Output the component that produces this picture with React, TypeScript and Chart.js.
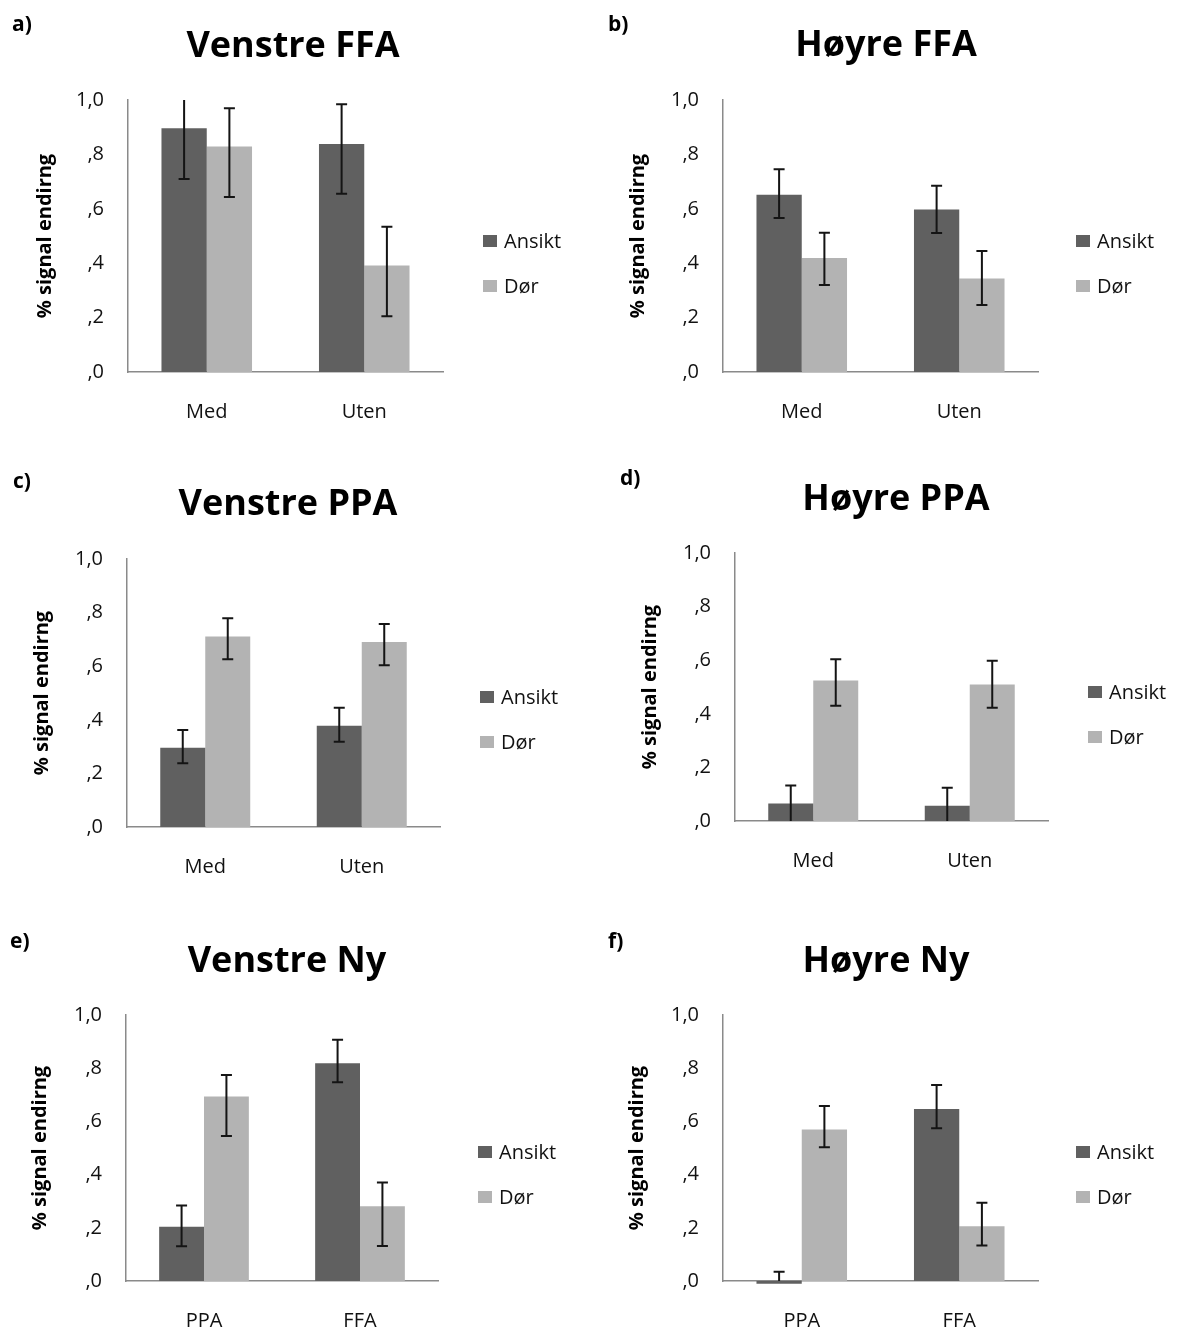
import React, { useEffect, useRef } from "react";
import { Chart, registerables } from "chart.js";

Chart.register(...registerables);

// ---------- data ----------
const CATEGORIES_ROI = ["Med", "Uten"];
const CATEGORIES_NY = ["PPA", "FFA"];
const SERIES = ["Ansikt", "Dør"];
const Y_TICK_VALUES = [0, 0.2, 0.4, 0.6, 0.8, 1.0];
const Y_TICK_LABELS = [",0", ",2", ",4", ",6", ",8", "1,0"];
const Y_TITLE = "% signal endirng";
const PANEL_LETTERS = ["a)", "b)", "c)", "d)", "e)", "f)"];
const PANEL_TITLES = ["Venstre FFA", "Høyre FFA", "Venstre PPA", "Høyre PPA", "Venstre Ny", "Høyre Ny"];

// a) Venstre FFA
const A_ANSIKT = [0.896, 0.838];
const A_ANSIKT_LO = [0.71, 0.655];
const A_ANSIKT_HI = [1.05, 0.984];
const A_DOR = [0.829, 0.392];
const A_DOR_LO = [0.643, 0.205];
const A_DOR_HI = [0.97, 0.534];

// b) Høyre FFA
const B_ANSIKT = [0.652, 0.597];
const B_ANSIKT_LO = [0.566, 0.511];
const B_ANSIKT_HI = [0.745, 0.685];
const B_DOR = [0.419, 0.344];
const B_DOR_LO = [0.32, 0.246];
const B_DOR_HI = [0.512, 0.445];

// c) Venstre PPA
const C_ANSIKT = [0.296, 0.378];
const C_ANSIKT_LO = [0.238, 0.318];
const C_ANSIKT_HI = [0.362, 0.445];
const C_DOR = [0.711, 0.69];
const C_DOR_LO = [0.626, 0.604];
const C_DOR_HI = [0.779, 0.757];

// d) Høyre PPA
const D_ANSIKT = [0.065, 0.057];
const D_ANSIKT_LO = [-0.01, -0.01];
const D_ANSIKT_HI = [0.132, 0.124];
const D_DOR = [0.524, 0.509];
const D_DOR_LO = [0.43, 0.423];
const D_DOR_HI = [0.604, 0.598];

// e) Venstre Ny
const E_ANSIKT = [0.204, 0.819];
const E_ANSIKT_LO = [0.131, 0.747];
const E_ANSIKT_HI = [0.284, 0.907];
const E_DOR = [0.694, 0.281];
const E_DOR_LO = [0.545, 0.132];
const E_DOR_HI = [0.774, 0.37];

// f) Høyre Ny
const F_ANSIKT = [-0.01, 0.647];
const F_ANSIKT_LO = [-0.06, 0.574];
const F_ANSIKT_HI = [0.035, 0.737];
const F_DOR = [0.57, 0.206];
const F_DOR_LO = [0.503, 0.133];
const F_DOR_HI = [0.658, 0.294];

// ---------- styles / layout ----------
const FONT = "'Open Sans', 'DejaVu Sans', sans-serif";
const DARK = "#606060";
const LIGHT = "#b3b3b3";
const AXIS = "#8a8a8a";
const TEXT = "#111111";

const LAYOUT = [
  { ox: 0, oy: 0, w: 590, h: 455, area: [128, 100, 443, 372], titleX: 293, titleY: 57, letterX: 12, letterY: 25, legX: 483, legY: [241, 286], yTitleX: 45 },
  { ox: 590, oy: 0, w: 589, h: 455, area: [723, 100, 1038, 372], titleX: 886, titleY: 56, letterX: 608, letterY: 25, legX: 1076, legY: [241, 286], yTitleX: 638 },
  { ox: 0, oy: 455, w: 590, h: 460, area: [127, 559, 440, 827], titleX: 288, titleY: 515, letterX: 13, letterY: 482, legX: 480, legY: [697, 742], yTitleX: 42 },
  { ox: 590, oy: 455, w: 589, h: 460, area: [735, 553, 1048, 821], titleX: 896, titleY: 510, letterX: 620, letterY: 479, legX: 1088, legY: [692, 737], yTitleX: 650 },
  { ox: 0, oy: 915, w: 590, h: 415, area: [126, 1015, 438, 1281], titleX: 287, titleY: 972, letterX: 10, letterY: 942, legX: 478, legY: [1152, 1197], yTitleX: 40 },
  { ox: 590, oy: 915, w: 589, h: 415, area: [723, 1015, 1038, 1281], titleX: 886, titleY: 972, letterX: 608, letterY: 942, legX: 1076, legY: [1152, 1197], yTitleX: 637 },
];

const PANEL_DATA = [
  { categories: CATEGORIES_ROI, ansikt: A_ANSIKT, ansiktLo: A_ANSIKT_LO, ansiktHi: A_ANSIKT_HI, dor: A_DOR, dorLo: A_DOR_LO, dorHi: A_DOR_HI },
  { categories: CATEGORIES_ROI, ansikt: B_ANSIKT, ansiktLo: B_ANSIKT_LO, ansiktHi: B_ANSIKT_HI, dor: B_DOR, dorLo: B_DOR_LO, dorHi: B_DOR_HI },
  { categories: CATEGORIES_ROI, ansikt: C_ANSIKT, ansiktLo: C_ANSIKT_LO, ansiktHi: C_ANSIKT_HI, dor: C_DOR, dorLo: C_DOR_LO, dorHi: C_DOR_HI },
  { categories: CATEGORIES_ROI, ansikt: D_ANSIKT, ansiktLo: D_ANSIKT_LO, ansiktHi: D_ANSIKT_HI, dor: D_DOR, dorLo: D_DOR_LO, dorHi: D_DOR_HI },
  { categories: CATEGORIES_NY, ansikt: E_ANSIKT, ansiktLo: E_ANSIKT_LO, ansiktHi: E_ANSIKT_HI, dor: E_DOR, dorLo: E_DOR_LO, dorHi: E_DOR_HI },
  { categories: CATEGORIES_NY, ansikt: F_ANSIKT, ansiktLo: F_ANSIKT_LO, ansiktHi: F_ANSIKT_HI, dor: F_DOR, dorLo: F_DOR_LO, dorHi: F_DOR_HI },
];

// ---------- plugins ----------
const errorBarPlugin = {
  id: "errorBars",
  afterDatasetsDraw(chart: any) {
    const ctx = chart.ctx;
    const yScale = chart.scales.y;
    const a = chart.chartArea;
    ctx.save();
    ctx.beginPath();
    ctx.rect(a.left - 20, a.top, a.right - a.left + 40, a.bottom - a.top);
    ctx.clip();
    ctx.strokeStyle = "#141414";
    ctx.lineWidth = 2;
    chart.data.datasets.forEach((ds: any, di: number) => {
      const meta = chart.getDatasetMeta(di);
      meta.data.forEach((bar: any, i: number) => {
        const x = bar.x;
        const yl = yScale.getPixelForValue(ds.errLo[i]);
        const yh = yScale.getPixelForValue(ds.errHi[i]);
        ctx.beginPath();
        ctx.moveTo(x, yl);
        ctx.lineTo(x, yh);
        ctx.moveTo(x - 5.5, yl);
        ctx.lineTo(x + 5.5, yl);
        ctx.moveTo(x - 5.5, yh);
        ctx.lineTo(x + 5.5, yh);
        ctx.stroke();
      });
    });
    ctx.restore();
  },
};

const decorPlugin = {
  id: "decor",
  afterDraw(chart: any, _args: any, opts: any) {
    const ctx = chart.ctx;
    ctx.save();
    ctx.fillStyle = "#000";
    ctx.font = `bold 36px ${FONT}`;
    ctx.textAlign = "center";
    ctx.textBaseline = "alphabetic";
    ctx.fillText(opts.title, opts.titleX, opts.titleY);

    ctx.font = `bold 21px ${FONT}`;
    ctx.textAlign = "left";
    ctx.textBaseline = "middle";
    ctx.fillText(opts.letter, opts.letterX, opts.letterY);

    chart.data.datasets.forEach((ds: any, i: number) => {
      const y = opts.legY[i];
      ctx.fillStyle = ds.backgroundColor;
      ctx.fillRect(opts.legX, y - 6, 14, 12);
      ctx.fillStyle = TEXT;
      ctx.font = `20px ${FONT}`;
      ctx.textBaseline = "middle";
      ctx.fillText(ds.label, opts.legX + 21, y + 1);
    });
    ctx.restore();
  },
};

function tickLabel(v: number) {
  const idx = Y_TICK_VALUES.findIndex((t) => Math.abs(t - v) < 1e-6);
  return idx >= 0 ? Y_TICK_LABELS[idx] : "";
}

function Panel({ index }: { index: number }) {
  const ref = useRef<HTMLCanvasElement | null>(null);
  const L = LAYOUT[index];
  const D = PANEL_DATA[index];

  useEffect(() => {
    const [l, t, r, b] = L.area;
    const titleFontSize = 20;
    const chart = new Chart(ref.current as HTMLCanvasElement, {
      type: "bar",
      data: {
        labels: D.categories,
        datasets: [
          {
            label: SERIES[0],
            data: D.ansikt,
            errLo: D.ansiktLo,
            errHi: D.ansiktHi,
            backgroundColor: DARK,
            borderWidth: 0,
            categoryPercentage: 0.575,
            barPercentage: 1,
            clip: false,
          } as any,
          {
            label: SERIES[1],
            data: D.dor,
            errLo: D.dorLo,
            errHi: D.dorHi,
            backgroundColor: LIGHT,
            borderWidth: 0,
            categoryPercentage: 0.575,
            barPercentage: 1,
            clip: false,
          } as any,
        ],
      },
      options: {
        responsive: false,
        maintainAspectRatio: false,
        animation: false,
        events: [],
        layout: { padding: { left: 0, top: t - L.oy, right: L.ox + L.w - r, bottom: 0 } },
        plugins: {
          legend: { display: false },
          tooltip: { enabled: false },
          title: { display: false },
          decor: {
            title: PANEL_TITLES[index],
            titleX: L.titleX - L.ox,
            titleY: L.titleY - L.oy,
            letter: PANEL_LETTERS[index],
            letterX: L.letterX - L.ox,
            letterY: L.letterY - L.oy,
            legX: L.legX - L.ox,
            legY: L.legY.map((v) => v - L.oy),
          },
        } as any,
        scales: {
          x: {
            type: "category",
            offset: true,
            grid: { display: false, drawTicks: false },
            border: { display: true, color: AXIS, width: 1.5 },
            ticks: {
              font: { family: FONT, size: 20 },
              color: TEXT,
              padding: 28,
              maxRotation: 0,
              autoSkip: false,
            },
            afterFit: (s: any) => {
              s.height = L.oy + L.h - b;
            },
          },
          y: {
            type: "linear",
            min: 0,
            max: 1,
            grid: { display: false, drawTicks: false },
            border: { display: true, color: AXIS, width: 1.5 },
            ticks: {
              stepSize: 0.2,
              padding: 24,
              font: { family: FONT, size: 20 },
              color: TEXT,
              callback: (v: any) => tickLabel(Number(v)),
            },
            title: {
              display: true,
              text: Y_TITLE,
              color: "#000",
              font: { family: FONT, size: titleFontSize, weight: "bold" },
              padding: { top: L.yTitleX - L.ox - (titleFontSize * 1.2) / 2, bottom: 0 },
            },
            afterFit: (s: any) => {
              s.width = l - L.ox;
            },
          },
        },
      } as any,
      plugins: [errorBarPlugin, decorPlugin],
    });
    return () => chart.destroy();
  }, []);

  return (
    <canvas
      ref={ref}
      width={L.w}
      height={L.h}
      style={{ position: "absolute", left: L.ox, top: L.oy, width: L.w, height: L.h }}
    />
  );
}

export default function App() {
  return (
    <div
      style={{
        position: "absolute",
        left: 0,
        top: 0,
        width: 1179,
        height: 1330,
        background: "#ffffff",
        overflow: "hidden",
      }}
    >
      {LAYOUT.map((_, i) => (
        <Panel key={i} index={i} />
      ))}
    </div>
  );
}
